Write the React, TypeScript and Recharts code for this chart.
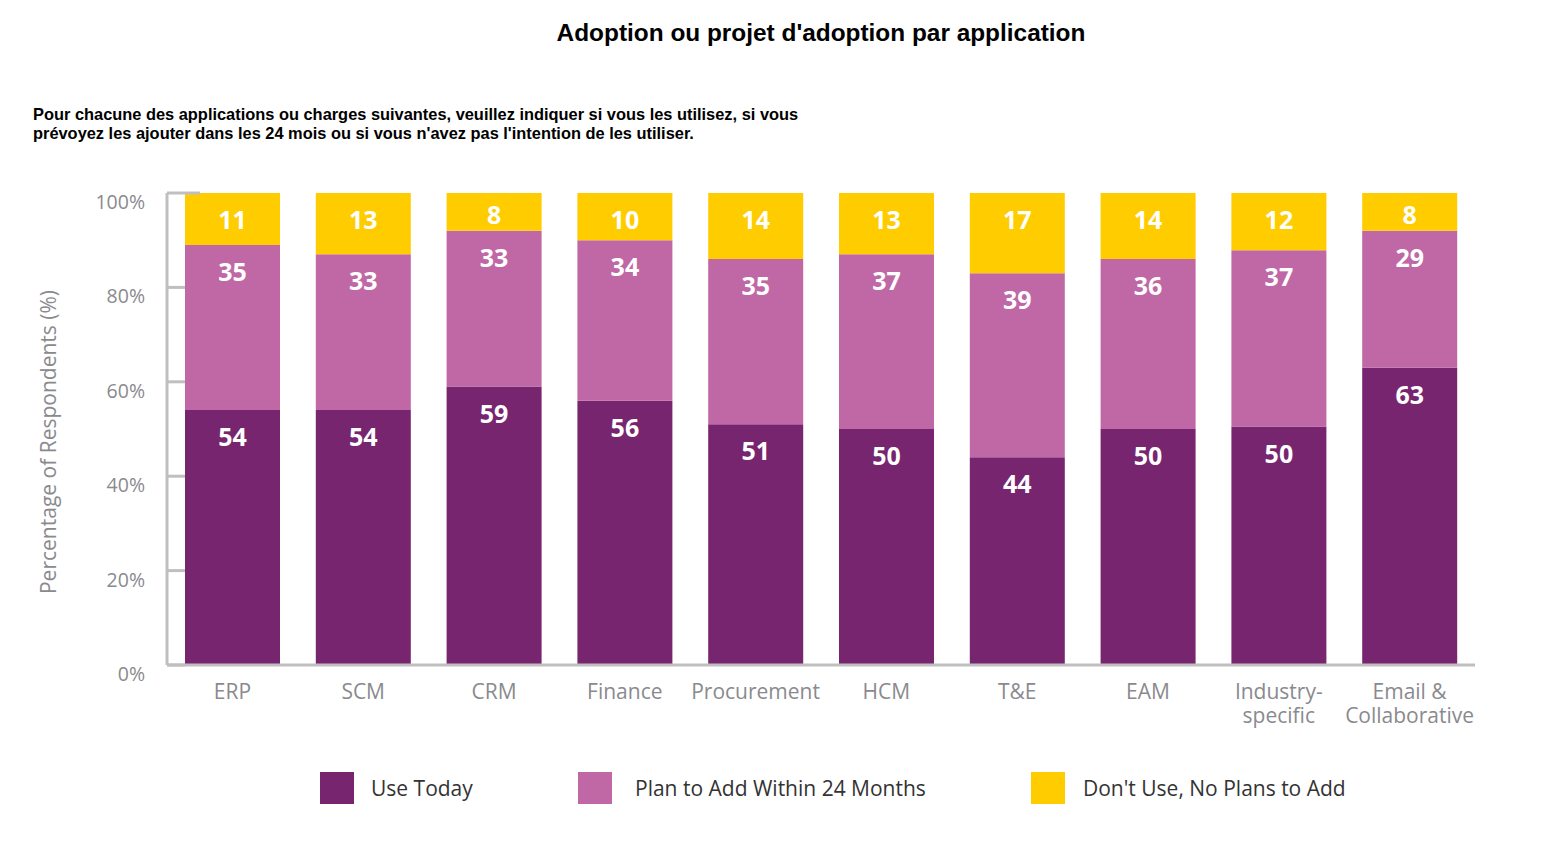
import React from 'react';
import { BarChart, Bar, XAxis, YAxis } from 'recharts';

const categories = ['ERP', 'SCM', 'CRM', 'Finance', 'Procurement', 'HCM', 'T&E', 'EAM', 'Industry-\nspecific', 'Email &\nCollaborative'];
const useToday = [54, 54, 59, 56, 51, 50, 44, 50, 50, 63];
const planToAdd = [35, 33, 33, 34, 35, 37, 39, 36, 37, 29];
const noPlans = [11, 13, 8, 10, 14, 13, 17, 14, 12, 8];
const yTicks = [0, 0.2, 0.4, 0.6, 0.8, 1];

const seriesNames = ['Use Today', 'Plan to Add Within 24 Months', "Don't Use, No Plans to Add"];
const colors = ['#77256F', '#C068A6', '#FFCC00'];

const data = categories.map((name, i) => ({
  name,
  useToday: useToday[i],
  planToAdd: planToAdd[i],
  noPlans: noPlans[i],
}));

const AXIS = '#bfbfbf';
const TICK = '#8a8a8e';
const FONT = '"Open Sans", sans-serif';

// legend item positions (square left, text left)
const legendSquares = [320, 578, 1031];
const legendTexts = [371, 635, 1083];

const YTick = (props: any) => {
  const { x, y, payload } = props;
  const axisX = x + 22;
  const len = payload.value === 1 ? 33 : 18;
  return (
    <g>
      <line x1={axisX} y1={y} x2={axisX + len} y2={y} stroke={AXIS} strokeWidth={3} />
      <text x={x} y={y + 16} textAnchor="end" fill={TICK} fontSize={19.5} fontFamily={FONT}>
        {Math.round(payload.value * 100)}%
      </text>
    </g>
  );
};

const XTick = (props: any) => {
  const { x, y, payload } = props;
  const lines = String(payload.value).split('\n');
  return (
    <text x={x} y={y + 32} textAnchor="middle" fill={TICK} fontSize={21} fontFamily={FONT}>
      {lines.map((l, i) => (
        <tspan key={i} x={x} dy={i === 0 ? 0 : 24}>{l}</tspan>
      ))}
    </text>
  );
};

const makeLabel = (values: number[]) => (props: any) => {
  const { x, y, width, height, index } = props;
  const cy = y + Math.min(26, height / 2 + 2);
  return (
    <text
      x={x + width / 2}
      y={cy}
      textAnchor="middle"
      dominantBaseline="central"
      fill="#fff"
      fontSize={25}
      fontWeight={700}
      fontFamily={FONT}
    >
      {values[index]}
    </text>
  );
};

export default function App() {
  return (
    <div style={{ position: 'absolute', left: 0, top: 0, width: 1552, height: 843, background: '#fff' }}>
      <div
        style={{
          position: 'absolute', left: 0, width: 1642, top: 19, textAlign: 'center',
          fontFamily: '"Liberation Sans", Arial, sans-serif', fontWeight: 700, fontSize: 24.4, color: '#000',
        }}
      >
        Adoption ou projet d'adoption par application
      </div>
      <div
        style={{
          position: 'absolute', left: 33, top: 105, width: 900, whiteSpace: 'nowrap',
          fontFamily: '"Liberation Sans", Arial, sans-serif', fontWeight: 700, fontSize: 16.4, lineHeight: '19px', color: '#000',
        }}
      >
        Pour chacune des applications ou charges suivantes, veuillez indiquer si vous les utilisez, si vous<br />
        prévoyez les ajouter dans les 24 mois ou si vous n'avez pas l'intention de les utiliser.
      </div>
      <BarChart
        width={1552}
        height={843}
        data={data}
        stackOffset="expand"
        barSize={95}
        margin={{ top: 193, right: 77, bottom: 118, left: 37 }}
      >
        <XAxis
          dataKey="name"
          height={60}
          interval={0}
          axisLine={{ stroke: AXIS, strokeWidth: 3 }}
          tickLine={false}
          tickSize={0}
          tick={<XTick />}
        />
        <YAxis
          width={130}
          domain={[0, 1]}
          ticks={yTicks}
          axisLine={{ stroke: AXIS, strokeWidth: 3 }}
          tickLine={false}
          tickSize={0}
          tickMargin={22}
          tick={<YTick />}
          label={(p: any) => {
            const vb = p.viewBox || { x: 37, y: 193, height: 472 };
            const cx = vb.x + 11;
            const cy = vb.y + vb.height / 2 + 13;
            return (
              <text
                x={cx}
                y={cy}
                transform={`rotate(-90 ${cx} ${cy})`}
                textAnchor="middle"
                dominantBaseline="central"
                fill={TICK}
                fontSize={21}
                fontFamily={FONT}
              >
                Percentage of Respondents (%)
              </text>
            );
          }}
        />
        <Bar dataKey="useToday" stackId="a" fill={colors[0]} isAnimationActive={false} label={makeLabel(useToday)} />
        <Bar dataKey="planToAdd" stackId="a" fill={colors[1]} isAnimationActive={false} label={makeLabel(planToAdd)} />
        <Bar dataKey="noPlans" stackId="a" fill={colors[2]} isAnimationActive={false} label={makeLabel(noPlans)} />
      </BarChart>
      {seriesNames.map((n, i) => (
        <React.Fragment key={n}>
          <div style={{ position: 'absolute', left: legendSquares[i], top: 772, width: 34, height: 32, background: colors[i] }} />
          <div
            style={{
              position: 'absolute', left: legendTexts[i], top: 772, height: 32, lineHeight: '32px',
              fontFamily: FONT, fontSize: 21, color: '#333', whiteSpace: 'nowrap',
            }}
          >
            {n}
          </div>
        </React.Fragment>
      ))}
    </div>
  );
}
